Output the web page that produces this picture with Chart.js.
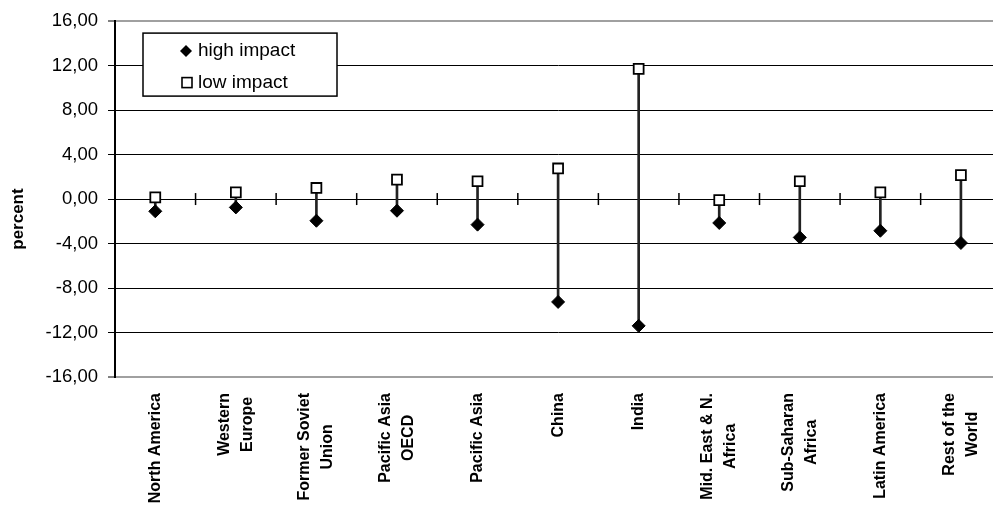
<!DOCTYPE html>
<html>
<head>
<meta charset="utf-8">
<script src="https://cdn.jsdelivr.net/npm/chart.js@4.4.0/dist/chart.umd.min.js"></script>
<style>
html, body { margin: 0; padding: 0; background: #fff; overflow: hidden; }
#wrap { width: 1010px; height: 515px; }
</style>
</head>
<body>
<div id="wrap"><canvas id="impactChart" width="1010" height="515"></canvas></div>
<script>
const regions = [
	["North America"], ["Western", "Europe"], ["Former Soviet", "Union"],
	["Pacific Asia", "OECD"], ["Pacific Asia"], ["China"], ["India"],
	["Mid. East & N.", "Africa"], ["Sub-Saharan", "Africa"], ["Latin America"],
	["Rest of the", "World"]
];
const highImpact = [-1.1, -0.75, -1.95, -1.05, -2.3, -9.25, -11.4, -2.15, -3.45, -2.85, -3.95];
const lowImpact = [0.15, 0.6, 1.0, 1.75, 1.6, 2.75, 11.7, -0.1, 1.6, 0.6, 2.15];
const yTicks = [16, 12, 8, 4, 0, -4, -8, -12, -16];
const yTitle = "percent";

const font = "'Liberation Sans', Arial, sans-serif";

// small tick marks across the zero line, between categories
const zeroTicks = {
	id: "zeroTicks",
	beforeDatasetsDraw(chart){
		const {ctx, scales: {x, y}} = chart;
		const y0 = y.getPixelForValue(0);
		ctx.save();
		ctx.strokeStyle = "#000";
		ctx.lineWidth = 1.5;
		for (let i = 1; i < regions.length; i++){
			const bx = (x.getPixelForValue(i - 1) + x.getPixelForValue(i)) / 2;
			ctx.beginPath();
			ctx.moveTo(bx, y0 - 6);
			ctx.lineTo(bx, y0 + 6);
			ctx.stroke();
		}
		ctx.restore();
	}
};

// rotated, centred category names under the plot + the axis title
const regionLabels = {
	id: "regionLabels",
	afterDraw(chart){
		const {ctx, chartArea, scales: {x}} = chart;
		ctx.save();
		ctx.font = "bold 16px " + font;
		ctx.fillStyle = "#000";
		ctx.textAlign = "center";
		ctx.textBaseline = "middle";
		regions.forEach((lines, i) => {
			const w = Math.max(...lines.map(t => ctx.measureText(t).width));
			ctx.save();
			ctx.translate(x.getPixelForValue(i), chartArea.bottom + 16);
			ctx.rotate(-Math.PI / 2);
			lines.forEach((t, j) => ctx.fillText(t, -w / 2, (j - (lines.length - 1) / 2) * 23));
			ctx.restore();
		});

		ctx.font = "bold 17px " + font;
		ctx.textBaseline = "alphabetic";
		ctx.translate(23, (chartArea.top + chartArea.bottom) / 2 + 20);
		ctx.rotate(-Math.PI / 2);
		ctx.fillText(yTitle, 0, 0);
		ctx.restore();
	}
};

// boxed legend inside the plot
const boxLegend = {
	id: "boxLegend",
	afterDraw(chart){
		const {ctx, chartArea} = chart;
		const left = chartArea.left + 28, top = chartArea.top + 12;
		ctx.save();
		ctx.fillStyle = "#fff";
		ctx.fillRect(left, top, 194, 63);
		ctx.strokeStyle = "#000";
		ctx.lineWidth = 1.5;
		ctx.strokeRect(left, top, 194, 63);

		ctx.fillStyle = "#000";
		ctx.beginPath();
		ctx.moveTo(left + 43 - 6, top + 18);
		ctx.lineTo(left + 43, top + 12);
		ctx.lineTo(left + 43 + 6, top + 18);
		ctx.lineTo(left + 43, top + 24);
		ctx.closePath();
		ctx.fill();

		ctx.fillStyle = "#fff";
		ctx.lineWidth = 1.6;
		ctx.fillRect(left + 39, top + 44.5, 10, 10);
		ctx.strokeRect(left + 39, top + 44.5, 10, 10);

		ctx.fillStyle = "#000";
		ctx.font = "19px " + font;
		ctx.textAlign = "left";
		ctx.textBaseline = "middle";
		ctx.fillText(chart.data.datasets[0].label, left + 55, top + 18);
		ctx.fillText(chart.data.datasets[1].label, left + 55, top + 49.5);
		ctx.restore();
	}
};

new Chart("impactChart", {
	type: "line",
	data: {
		labels: regions.map(r => r.join(" ")),
		datasets: [
			{
				label: "high impact",
				data: highImpact,
				showLine: false,
				pointStyle: "rectRot",
				pointRadius: 6.5,
				pointBackgroundColor: "#000",
				pointBorderColor: "#000",
				pointBorderWidth: 1,
				order: 1
			},
			{
				label: "low impact",
				data: lowImpact,
				showLine: false,
				pointStyle: "rect",
				pointRadius: 7,
				pointBackgroundColor: "#fff",
				pointBorderColor: "#000",
				pointBorderWidth: 1.8,
				order: 2
			},
			{
				type: "bar",
				label: "range",
				data: highImpact.map((v, i) => [v, lowImpact[i]]),
				backgroundColor: "#222",
				barThickness: 2,
				order: 3
			}
		]
	},
	options: {
		responsive: false,
		animation: false,
		layout: { padding: { top: 20, right: 6, bottom: 138, left: 0 } },
		plugins: {
			legend: { display: false },
			tooltip: { enabled: false }
		},
		scales: {
			x: { display: false, offset: true },
			y: {
				min: -16,
				max: 16,
				afterBuildTicks: scale => { scale.ticks = yTicks.map(v => ({ value: v })); },
				afterFit: scale => { scale.width = 115; },
				ticks: {
					color: "#000",
					padding: 10,
					font: { family: font, size: 18.5 },
					callback: v => v.toFixed(2).replace(".", ",")
				},
				grid: {
					color: c => (c.tick && Math.abs(c.tick.value) === 16) ? "#a0a0a0" : "#000",
					lineWidth: c => (c.tick && Math.abs(c.tick.value) === 16) ? 2 : 1,
					tickColor: "#000",
					tickLength: 7,
					tickWidth: 1
				},
				border: { display: true, color: "#000", width: 2 }
			}
		}
	},
	plugins: [zeroTicks, regionLabels, boxLegend]
});
</script>
</body>
</html>
